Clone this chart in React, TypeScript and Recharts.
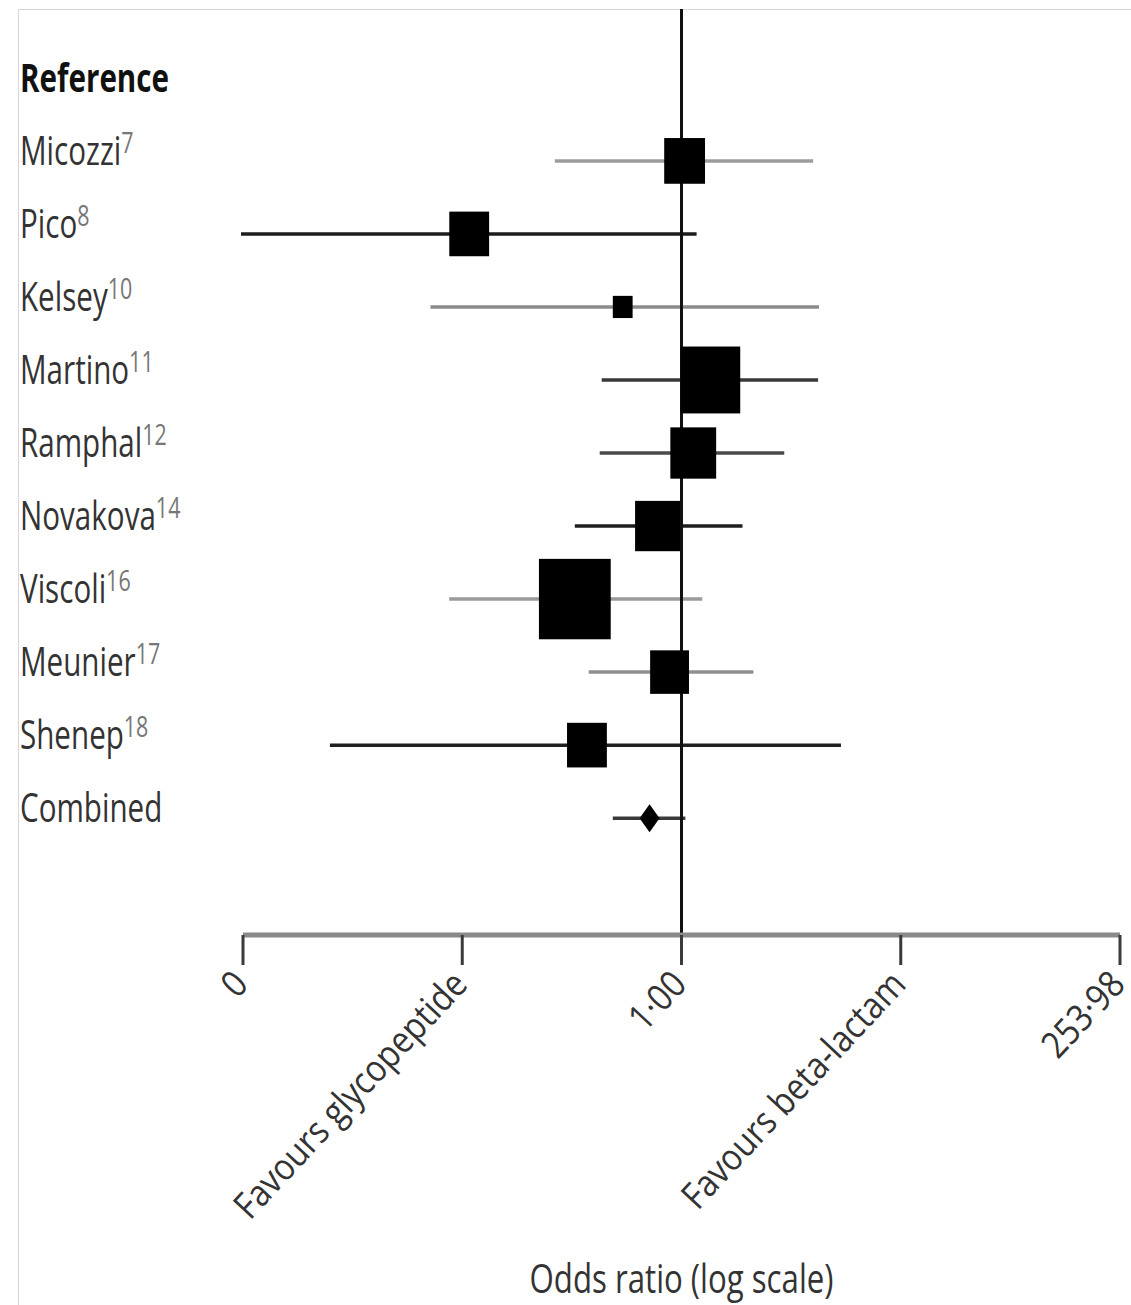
import {
  ComposedChart,
  Scatter,
  XAxis,
  YAxis,
  ReferenceLine,
  Label,
} from 'recharts'

// study rows, top to bottom (row 0 is the "Reference" header)
const STUDIES = ['Micozzi', 'Pico', 'Kelsey', 'Martino', 'Ramphal', 'Novakova', 'Viscoli', 'Meunier', 'Shenep', 'Combined']
const REFS = ['7', '8', '10', '11', '12', '14', '16', '17', '18', '']
const ODDS_RATIO = [1.04, 0.0685, 0.476, 1.44, 1.16, 0.739, 0.26, 0.86, 0.303, 0.668]
const CI_LOW = [0.202, 0.00384, 0.042, 0.365, 0.356, 0.26, 0.0532, 0.31, 0.0118, 0.42]
const CI_HIGH = [5.27, 1.21, 5.68, 5.61, 3.66, 2.16, 1.3, 2.48, 7.49, 1.05]
// study weight (%), drawn as box area
const WEIGHTS = [8.5, 8.1, 2.0, 18.2, 10.7, 10.3, 26.3, 7.7, 8.1, 0]

const AXIS_MAX = 253.98
const AXIS_TICKS = [1 / 253.98, 1 / 15.937, 1, 15.937, 253.98]
const TICK_LABELS = ['0', 'Favours glycopeptide', '1·00', 'Favours beta-lactam', '253·98']

// line shade for each row's interval
const CI_STROKES = ['#9c9c9c', '#1c1c1c', '#8c8c8c', '#383838', '#4a4a4a', '#1e1e1e', '#9a9a9a', '#909090', '#202020', '#3a3a3a']

const FONT = "'Open Sans', 'Noto Sans', sans-serif"
const SQUEEZE = 0.74

const rows = STUDIES.map((name, i) => ({
  name,
  row: i + 1,
  or: ODDS_RATIO[i],
  low: CI_LOW[i],
  high: CI_HIGH[i],
  weight: WEIGHTS[i],
}))

function StudyTick(props: any) {
  const { y, payload } = props
  const v = payload.value
  if (v === 0) {
    return (
      <g transform={`translate(20, ${y + 4}) scale(${SQUEEZE}, 1)`}>
        <text x={0} y={0} fontSize={40} fontWeight={700} fontFamily={FONT} fill="#111">
          Reference
        </text>
      </g>
    )
  }
  const i = v - 1
  return (
    <g transform={`translate(20, ${y + 4}) scale(${SQUEEZE}, 1)`}>
      <text x={0} y={0} fontSize={40} fontFamily={FONT} fill="#333">
        {STUDIES[i]}
        {REFS[i] && (
          <tspan fontSize={29} dy={-12} fill="#777">
            {REFS[i]}
          </tspan>
        )}
      </text>
    </g>
  )
}

function OddsTick(props: any) {
  const { x, y, index } = props
  return (
    <g transform={`translate(${x + 7}, ${y + 19}) rotate(-47) scale(0.88, 1)`}>
      <text x={0} y={0} textAnchor="end" fontSize={37} fontFamily={FONT} fill="#333">
        {TICK_LABELS[index]}
      </text>
    </g>
  )
}

function Marker(props: any) {
  const { cx, cy, payload } = props
  if (!payload.weight) {
    // pooled estimate drawn as a diamond
    return <polygon points={`${cx - 10},${cy} ${cx},${cy - 14} ${cx + 10},${cy} ${cx},${cy + 14}`} fill="#000" />
  }
  const w = Math.sqrt(payload.weight) * 14
  const h = w * 1.12
  return <rect x={cx - w / 2} y={cy - h / 2} width={w} height={h} fill="#000" />
}

export default function App() {
  return (
    <div style={{ position: 'absolute', left: 0, top: 0, width: 1131, height: 1305, background: '#fff' }}>
      <div
        style={{
          position: 'absolute',
          left: 18,
          top: 9,
          right: 0,
          bottom: 0,
          borderLeft: '1px solid #ddd3dd',
          borderTop: '1px solid #ddd3dd',
        }}
      />
      <ComposedChart
        width={1131}
        height={1305}
        data={rows}
        margin={{ top: 9, right: 11, bottom: 0, left: 0 }}
        style={{ position: 'absolute', left: 0, top: 0 }}
      >
        <XAxis
          dataKey="or"
          type="number"
          scale="log"
          domain={[1 / AXIS_MAX, AXIS_MAX]}
          allowDataOverflow
          ticks={AXIS_TICKS}
          interval={0}
          height={370}
          axisLine={{ stroke: '#8a8a8a', strokeWidth: 5 }}
          tickLine={{ stroke: '#3a3a3a', strokeWidth: 3 }}
          tickSize={30}
          tickMargin={2}
          tick={<OddsTick />}
        >
          <Label
            content={(p: any) => {
              const vb = p.viewBox
              return (
                <g transform={`translate(${vb.x + vb.width / 2}, ${vb.y + vb.height - 12}) scale(0.78, 1)`}>
                  <text x={0} y={0} textAnchor="middle" fontSize={40} fontFamily={FONT} fill="#333">
                    Odds ratio (log scale)
                  </text>
                </g>
              )
            }}
          />
        </XAxis>
        <YAxis
          dataKey="row"
          type="number"
          domain={[-1.08, 11.6]}
          allowDataOverflow
          reversed
          ticks={[0, 1, 2, 3, 4, 5, 6, 7, 8, 9, 10]}
          interval={0}
          width={243}
          axisLine={false}
          tickLine={false}
          tick={<StudyTick />}
        />
        {rows.map((r, i) => (
          <ReferenceLine
            key={r.name}
            segment={[
              { x: r.low, y: r.row },
              { x: r.high, y: r.row },
            ]}
            stroke={CI_STROKES[i]}
            strokeWidth={3.5}
            ifOverflow="visible"
          />
        ))}
        <ReferenceLine x={1} stroke="#111" strokeWidth={3} />
        <Scatter data={rows} dataKey="or" shape={<Marker />} isAnimationActive={false} />
      </ComposedChart>
    </div>
  )
}
